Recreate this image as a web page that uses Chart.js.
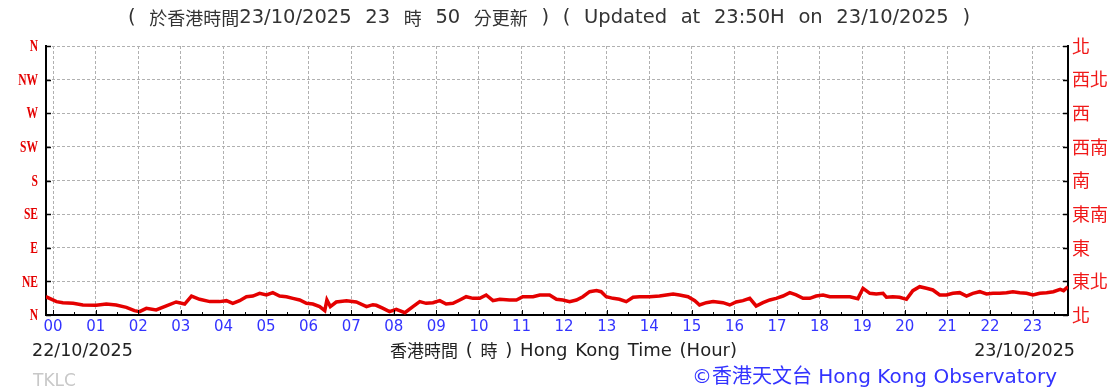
<!DOCTYPE html>
<html>
<head>
<meta charset="utf-8">
<script src="https://cdn.jsdelivr.net/npm/chart.js@4/dist/chart.umd.min.js"></script>
<style>
    html, body { margin: 0; padding: 0; background: #fff; }
    #wrap { position: relative; width: 1115px; height: 391px; }
</style>
</head>
<body>
<div id="wrap"><canvas id="windDirChart" width="1115" height="391"></canvas></div>
<script>
// x axis: hour labels
const hourLabels = ['00', '01', '02', '03', '04', '05', '06', '07', '08', '09', '10', '11',
                    '12', '13', '14', '15', '16', '17', '18', '19', '20', '21', '22', '23'];

// y axis: compass points, 0..360 step 45
const dirLabelsEn = ['N', 'NE', 'E', 'SE', 'S', 'SW', 'W', 'NW', 'N'];
const dirLabelsZh = ['北', '東北', '東', '東南', '南', '西南', '西', '西北', '北'];

// wind direction readings (hours since 00:00 on 22/10, degrees)
const obsHours = [
    -0.17, 0.08, 0.23, 0.47, 0.70, 1.01, 1.25, 1.48, 1.72, 1.91, 2.03, 2.19, 2.42, 2.66, 2.89,
    3.09, 3.25, 3.44, 3.68, 3.91, 4.07, 4.22, 4.38, 4.54, 4.69, 4.85, 5.01, 5.16, 5.32, 5.48,
    5.63, 5.79, 5.95, 6.10, 6.26, 6.38, 6.43, 6.51, 6.65, 6.89, 7.12, 7.36, 7.51, 7.59, 7.75,
    7.90, 8.06, 8.26, 8.45, 8.61, 8.76, 8.92, 9.08, 9.23, 9.39, 9.55, 9.70, 9.86, 10.02, 10.17,
    10.33, 10.49, 10.72, 10.88, 11.03, 11.27, 11.43, 11.66, 11.82, 11.97, 12.13, 12.29, 12.44, 12.60, 12.76,
    12.87, 12.99, 13.15, 13.30, 13.46, 13.62, 13.77, 14.01, 14.24, 14.40, 14.56, 14.71, 14.91, 15.07, 15.18,
    15.34, 15.50, 15.73, 15.89, 16.04, 16.20, 16.36, 16.51, 16.67, 16.83, 16.98, 17.14, 17.30, 17.45, 17.61,
    17.77, 17.92, 18.08, 18.24, 18.47, 18.71, 18.90, 19.02, 19.18, 19.33, 19.49, 19.57, 19.72, 19.88, 20.04,
    20.19, 20.35, 20.51, 20.66, 20.82, 20.98, 21.13, 21.29, 21.45, 21.60, 21.76, 21.92, 22.07, 22.23, 22.39,
    22.54, 22.70, 22.86, 23.01, 23.17, 23.33, 23.49, 23.65, 23.73, 23.83
];
const obsDegrees = [
    24.5, 17.9, 16.5, 15.6, 13.4, 13.0, 14.7, 13.4, 10.3, 5.8, 4.5, 8.9, 6.7, 12.1, 17.4,
    14.7, 25.4, 21.0, 17.9, 17.9, 19.2, 15.6, 19.2, 24.5, 25.4, 29.0, 26.8, 29.9, 25.4, 24.5,
    22.3, 20.1, 15.6, 14.7, 11.2, 5.8, 20.1, 11.2, 17.4, 19.2, 17.4, 11.2, 13.8, 13.0, 8.9,
    4.5, 7.6, 3.1, 11.2, 17.9, 15.6, 16.5, 19.2, 14.7, 15.6, 20.1, 24.5, 22.3, 22.3, 26.8,
    19.2, 21.0, 20.1, 20.1, 24.5, 24.5, 26.8, 26.8, 21.0, 20.1, 17.9, 20.1, 24.5, 31.2, 32.6,
    31.2, 24.5, 22.3, 21.0, 17.9, 23.7, 24.5, 24.5, 25.4, 26.8, 28.1, 26.8, 24.5, 19.2, 13.4,
    16.5, 17.9, 16.5, 13.4, 17.4, 19.2, 22.3, 12.1, 16.5, 20.1, 22.3, 25.4, 29.9, 26.8, 22.3,
    22.3, 25.4, 26.8, 24.5, 24.5, 24.5, 21.9, 35.7, 29.0, 28.1, 29.0, 23.7, 24.5, 23.7, 21.0,
    32.6, 37.9, 35.7, 33.5, 26.8, 26.8, 29.0, 29.9, 25.4, 29.0, 31.2, 28.1, 29.0, 29.0, 29.9,
    31.2, 29.9, 29.0, 26.8, 29.0, 29.9, 31.2, 34.4, 32.6, 37.9
];

const RED = '#e40000';
const BLUE = '#3333ff';
const CJK_RE = /([\u3400-\u9fff]+)/;

// text with latin and CJK parts in different sizes
function wordRuns(word) {
    return word.split(CJK_RE).filter(Boolean).map(s => ({ s, cjk: CJK_RE.test(s) }));
}
function measureWord(ctx, word, latin, cjk) {
    return wordRuns(word).reduce((w, r) => {
        ctx.font = r.cjk ? cjk : latin;
        return w + ctx.measureText(r.s).width;
    }, 0);
}
function drawWord(ctx, word, x, y, latin, cjk) {
    wordRuns(word).forEach(r => {
        ctx.font = r.cjk ? cjk : latin;
        ctx.fillText(r.s, x, y);
        x += ctx.measureText(r.s).width;
    });
}
// lay the words out so the line runs from x0 to x1
function spreadLine(ctx, text, x0, x1, y, latin, cjk) {
    const words = text.split(' ');
    const widths = words.map(w => measureWord(ctx, w, latin, cjk));
    const total = widths.reduce((a, b) => a + b, 0);
    const gap = (x1 - x0 - total) / (words.length - 1);
    let x = x0;
    words.forEach((w, i) => {
        drawWord(ctx, w, x, y, latin, cjk);
        x += widths[i] + gap;
    });
}

// ticks pointing into the plot area, left labels + all the free text round the chart
const decorPlugin = {
    id: 'decor',
    afterDraw(chart) {
        const { ctx, chartArea: a, scales } = chart;
        ctx.save();
        ctx.strokeStyle = '#000';
        ctx.lineWidth = 1.5;
        ctx.beginPath();
        for (let d = 0; d <= 360; d += 45) {
            const y = Math.round(scales.y.getPixelForValue(d)) + 0.5;
            ctx.moveTo(a.left, y); ctx.lineTo(a.left + 5, y);
            ctx.moveTo(a.right, y); ctx.lineTo(a.right - 5, y);
        }
        ctx.stroke();
        ctx.lineWidth = 1;
        ctx.beginPath();
        for (let h = 0; h < 24; h += 0.5) {
            const x = Math.round(scales.x.getPixelForValue(h)) + 0.5;
            const len = Number.isInteger(h) ? 5 : 3;
            ctx.moveTo(x, a.bottom); ctx.lineTo(x, a.bottom - len);
        }
        ctx.stroke();

        // left compass labels: narrow bold serif
        ctx.fillStyle = RED;
        ctx.font = 'bold 16px "Liberation Serif"';
        ctx.textAlign = 'right';
        ctx.textBaseline = 'middle';
        dirLabelsEn.forEach((lab, i) => {
            const y = scales.y.getPixelForValue(i * 45);
            ctx.save();
            ctx.translate(38, y + 1);
            ctx.scale(0.72, 1);
            ctx.fillText(lab, 0, 0);
            ctx.restore();
        });

        ctx.textAlign = 'left';
        ctx.fillStyle = '#333';
        spreadLine(ctx, '( 於香港時間23/10/2025 23 時 50 分更新 ) ( Updated at 23:50H on 23/10/2025 )',
                   128, 970, 18, '19.5px "DejaVu Sans"', '18px "Noto Sans CJK TC"');

        ctx.fillStyle = '#222';
        spreadLine(ctx, '香港時間 ( 時 ) Hong Kong Time (Hour)',
                   390, 737, 351, '18px "DejaVu Sans"', '17px "Noto Sans CJK TC"');
        ctx.font = '17.5px "DejaVu Sans"';
        ctx.fillText('22/10/2025', 32, 351);
        ctx.textAlign = 'right';
        ctx.fillText('23/10/2025', 1075, 351);

        ctx.textAlign = 'left';
        ctx.fillStyle = '#c8c8c8';
        ctx.font = '17px "DejaVu Sans"';
        ctx.fillText('TKLC', 33, 382);
        ctx.fillStyle = BLUE;
        ctx.font = '20px "DejaVu Sans", "Noto Sans CJK TC"';
        ctx.textAlign = 'right';
        ctx.fillText('©香港天文台 Hong Kong Observatory', 1057, 378);
        ctx.restore();
    }
};

const dashedGrid = { color: '#b0b0b0', lineWidth: 1, drawTicks: false };

new Chart(document.getElementById('windDirChart'), {
    type: 'line',
    data: {
        datasets: [{
            label: 'Wind direction',
            data: obsHours.map((h, i) => ({ x: h, y: obsDegrees[i] })),
            borderColor: RED,
            borderWidth: 3.5,
            pointRadius: 0,
            tension: 0
        }]
    },
    options: {
        responsive: false,
        devicePixelRatio: 1,
        animation: false,
        layout: { padding: { top: 46, left: 0, right: 0, bottom: 0 } },
        plugins: { legend: { display: false }, tooltip: { enabled: false } },
        scales: {
            x: {
                type: 'linear',
                min: -1 / 6,
                max: 23 + 5 / 6,
                afterBuildTicks: s => { s.ticks = hourLabels.map((_, i) => ({ value: i })); },
                afterFit: s => { s.height = 76; },
                grid: dashedGrid,
                border: { color: '#000', width: 2, dash: [3, 2] },
                ticks: {
                    autoSkip: false,
                    maxRotation: 0,
                    padding: 3,
                    color: BLUE,
                    font: { family: 'DejaVu Sans', size: 15 },
                    callback: v => hourLabels[v]
                }
            },
            y: {
                position: 'left',
                min: 0,
                max: 360,
                afterBuildTicks: s => { s.ticks = dirLabelsEn.map((_, i) => ({ value: i * 45 })); },
                afterFit: s => { s.width = 46; },
                grid: dashedGrid,
                border: { color: '#000', width: 2, dash: [3, 2] },
                ticks: { display: false }
            },
            y2: {
                position: 'right',
                min: 0,
                max: 360,
                afterBuildTicks: s => { s.ticks = dirLabelsZh.map((_, i) => ({ value: i * 45 })); },
                afterFit: s => { s.width = 47; },
                grid: { drawOnChartArea: false, drawTicks: false },
                border: { color: '#000', width: 2 },
                ticks: {
                    padding: 4,
                    color: '#f01818',
                    font: { family: 'Noto Sans CJK TC', size: 18 },
                    callback: v => dirLabelsZh[v / 45]
                }
            }
        }
    },
    plugins: [decorPlugin]
});
</script>
</body>
</html>
